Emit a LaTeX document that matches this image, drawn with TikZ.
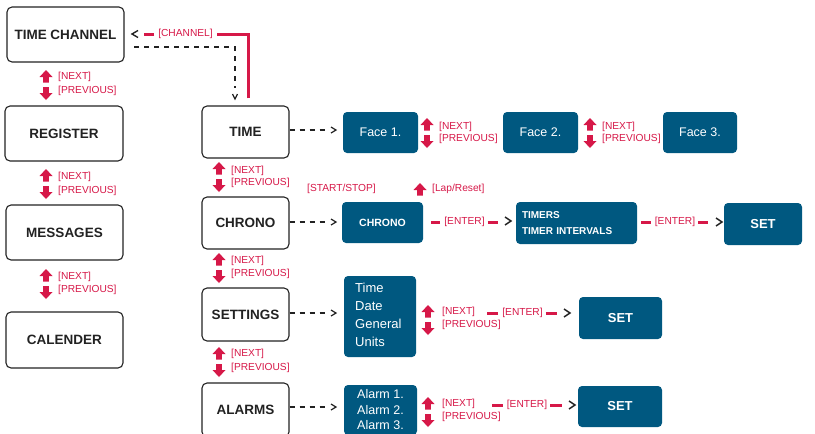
\documentclass[tikz,border=0pt]{standalone}
\usepackage{fontspec}
\setmainfont{Liberation Sans}
\usetikzlibrary{arrows.meta}
\definecolor{ured}{RGB}{214,24,72}
\definecolor{ublue}{RGB}{0,88,128}
\definecolor{uink}{RGB}{34,34,34}
\tikzset{
  wbox/.style={draw=uink, line width=1.1pt, rounded corners=5pt, fill=white, text=uink,
    font=\bfseries\fontsize{13.5}{16}\selectfont, inner sep=0pt, align=center},
  bbox/.style={fill=ublue, rounded corners=4pt, text=white, inner sep=0pt},
  lbl/.style={text=ured, font=\fontsize{10.2}{12}\selectfont, inner sep=0pt, anchor=west},
  clbl/.style={text=ured, font=\fontsize{10.2}{12}\selectfont, inner sep=0pt},
  dsh/.style={draw=uink, line width=2.4pt, dash pattern=on 5pt off 5pt},
  redln/.style={draw=ured, line width=3pt},
  chevr/.pic={\draw[uink, line width=1.4pt] (-6,-4) -- (0,0) -- (-6,4);},
  chevs/.pic={\draw[uink, line width=1.2pt] (-5,-3) -- (0,0) -- (-5,3);},
  uparr/.pic={\fill[ured] (0,0) -- (6.5,7) -- (2.8,7) -- (2.8,12.5) -- (-2.8,12.5) -- (-2.8,7) -- (-6.5,7) -- cycle;},
  dnarr/.pic={\fill[ured] (0,13) -- (6.5,6) -- (2.8,6) -- (2.8,0) -- (-2.8,0) -- (-2.8,6) -- (-6.5,6) -- cycle;},
  updown/.pic={\pic at (0,0) {uparr}; \pic at (0,17) {dnarr};}
}
\begin{document}
\begin{tikzpicture}[x=1pt,y=-1pt]
\useasboundingbox (0,0) rectangle (815,434);
% left column
\node[wbox, minimum width=117pt, minimum height=55pt] (tc) at (65.5,34.5) {TIME CHANNEL};
\node[wbox, minimum width=118pt, minimum height=55pt] (reg) at (64,133.5) {REGISTER};
\node[wbox, minimum width=117pt, minimum height=55pt] (msg) at (64.5,232.5) {MESSAGES};
\node[wbox, minimum width=117pt, minimum height=56pt] (cal) at (64.5,340) {CALENDER};
\pic at (46,70) {updown};
\node[lbl] (n1) at (58,77) {[NEXT]};
\node[lbl] (p1) at (58,91) {[PREVIOUS]};
\pic at (46,169) {updown};
\node[lbl] (n2) at (58,177) {[NEXT]};
\node[lbl] (p2) at (58,191) {[PREVIOUS]};
\pic at (46,269) {updown};
\node[lbl] (n3) at (58,277) {[NEXT]};
\node[lbl] (p3) at (58,290) {[PREVIOUS]};
% middle column
\node[wbox, minimum width=87pt, minimum height=52pt] (time) at (245.5,132) {TIME};
\node[wbox, minimum width=87pt, minimum height=52pt] (chrono) at (245.5,223) {CHRONO};
\node[wbox, minimum width=87pt, minimum height=53pt] (settings) at (245.5,314.5) {SETTINGS};
\node[wbox, minimum width=87pt, minimum height=54pt] (alarms) at (245.5,410) {ALARMS};
\pic at (219,162) {updown};
\node[lbl] (n4) at (231,171) {[NEXT]};
\node[lbl] (p4) at (231,183) {[PREVIOUS]};
\pic at (219,253) {updown};
\node[lbl] (n5) at (231,261) {[NEXT]};
\node[lbl] (p5) at (231,274) {[PREVIOUS]};
\pic at (219,347) {updown};
\node[lbl] (n6) at (231,354) {[NEXT]};
\node[lbl] (p6) at (231,368) {[PREVIOUS]};
% top connectors
\coordinate (dstart) at (134,47);
\coordinate (dturn) at (235,47);
\coordinate (dend) at (235,88);
\draw[dsh] (dstart) -- (dturn) -- (dend);
\draw[uink, line width=1.2pt] (232.5,94) -- (235,99) -- (237.5,94);
\coordinate (rtop) at (248,34);
\node[clbl] (chl) at (185.5,34) {[CHANNEL]};
\draw[redln] (time.north -| rtop) ++(0,-7) -- (rtop) -- ([xshift=4pt]chl.east);
\draw[redln] ([xshift=-4pt]chl.west) -- ++(-10,0);
\draw[uink, line width=1.4pt] (138,30.5) -- (132,34) -- (138,37.5);
% TIME row
\node[bbox, minimum width=75pt, minimum height=41pt, font=\fontsize{12.5}{15}\selectfont] (f1) at (380.5,132.5) {Face 1.};
\node[bbox, minimum width=75pt, minimum height=41pt, font=\fontsize{12.5}{15}\selectfont] (f2) at (540.5,132.5) {Face 2.};
\node[bbox, minimum width=74pt, minimum height=41pt, font=\fontsize{12.5}{15}\selectfont] (f3) at (700,132.5) {Face 3.};
\coordinate (e1) at (326,130);
\draw[dsh] (time.east |- e1) -- (e1);
\pic at (336,130) {chevs};
\pic at (427,118) {updown};
\node[lbl] (n7) at (439,127) {[NEXT]};
\node[lbl] (p7) at (439,139) {[PREVIOUS]};
\pic at (590,118) {updown};
\node[lbl] (n8) at (602,127) {[NEXT]};
\node[lbl] (p8) at (602,139) {[PREVIOUS]};
% CHRONO row
\node[lbl] (ss) at (307,189) {[START/STOP]};
\pic at (420,183) {uparr};
\node[lbl] (lr) at (432,189) {[Lap/Reset]};
\node[bbox, minimum width=81pt, minimum height=41pt, font=\bfseries\fontsize{10.5}{13}\selectfont] (cb) at (382.5,222.5) {CHRONO};
\node[bbox, minimum width=121pt, minimum height=42pt, font=\bfseries\fontsize{10}{16}\selectfont, align=left, text width=109pt] (tim) at (576.5,223) {TIMERS\\TIMER INTERVALS};
\node[bbox, minimum width=78pt, minimum height=42pt, font=\bfseries\fontsize{13}{15}\selectfont] (set1) at (763,224) {SET};
\coordinate (e2) at (326,222);
\draw[dsh] (chrono.east |- e2) -- (e2);
\pic at (336,222) {chevs};
\node[clbl] (ent1) at (464.5,222) {[ENTER]};
\draw[redln] ([xshift=-4pt]ent1.west) -- ++(-9,0);
\draw[redln] ([xshift=3pt]ent1.east) -- ++(10,0);
\pic at (511,221) {chevr};
\node[clbl] (ent2) at (675,222) {[ENTER]};
\draw[redln] ([xshift=-4pt]ent2.west) -- ++(-10,0);
\draw[redln] ([xshift=3pt]ent2.east) -- ++(10,0);
\pic at (722,222) {chevr};
% SETTINGS row
\node[bbox, minimum width=72pt, minimum height=81pt] (sb) at (380,316.5) {};
\node[text=white, font=\fontsize{13}{18}\selectfont, align=left, anchor=north west, inner sep=0pt] (sbt) at (355,283) {Time\\Date\\General\\Units};
\node[bbox, minimum width=83pt, minimum height=42pt, font=\bfseries\fontsize{13}{15}\selectfont] (set2) at (620.5,318) {SET};
\coordinate (e3) at (326,313);
\draw[dsh] (settings.east |- e3) -- (e3);
\pic at (336,313) {chevs};
\pic at (428,305) {updown};
\node[lbl] (n9) at (442,312) {[NEXT]};
\node[lbl] (p9) at (442,325) {[PREVIOUS]};
\node[clbl] (ent3) at (522.5,313) {[ENTER]};
\draw[redln] ([xshift=-4pt]ent3.west) -- ++(-11,0);
\draw[redln] ([xshift=3pt]ent3.east) -- ++(11,0);
\pic at (570,313) {chevr};
% ALARMS row
\node[bbox, minimum width=73pt, minimum height=50pt, font=\fontsize{12.5}{15.5}\selectfont, align=center] (ab) at (380.5,410) {Alarm 1.\\Alarm 2.\\Alarm 3.};
\node[bbox, minimum width=84pt, minimum height=41pt, font=\bfseries\fontsize{13}{15}\selectfont] (set3) at (620,406.5) {SET};
\coordinate (e4) at (326,407);
\draw[dsh] (alarms.east |- e4) -- (e4);
\pic at (336,407) {chevs};
\pic at (428,397) {updown};
\node[lbl] (n10) at (442,404) {[NEXT]};
\node[lbl] (p10) at (442,417) {[PREVIOUS]};
\node[clbl] (ent4) at (527,405) {[ENTER]};
\draw[redln] ([xshift=-4pt]ent4.west) -- ++(-11,0);
\draw[redln] ([xshift=3pt]ent4.east) -- ++(12,0);
\pic at (575,405) {chevr};
\end{tikzpicture}
\end{document}
